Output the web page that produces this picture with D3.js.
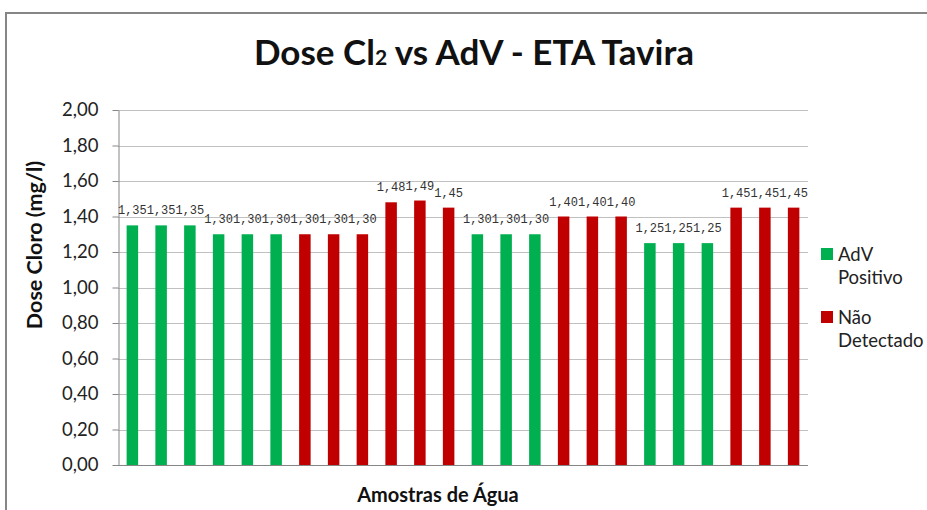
<!DOCTYPE html>
<html>
<head>
<meta charset="utf-8">
<script src="https://cdn.jsdelivr.net/npm/d3@7"></script>
<style>
  body { margin: 0; background: #fff; }
  svg { display: block; }
</style>
</head>
<body>
<div id="chart"></div>
<script>
var samples = d3.range(1, 25).map(function(i) { return 'A' + i; });
var doses = [1.35, 1.35, 1.35, 1.30, 1.30, 1.30, 1.30, 1.30, 1.30, 1.48, 1.49, 1.45,
             1.30, 1.30, 1.30, 1.40, 1.40, 1.40, 1.25, 1.25, 1.25, 1.45, 1.45, 1.45];
var groups = ['pos', 'pos', 'pos', 'pos', 'pos', 'pos', 'nd', 'nd', 'nd', 'nd', 'nd', 'nd',
              'pos', 'pos', 'pos', 'nd', 'nd', 'nd', 'pos', 'pos', 'pos', 'nd', 'nd', 'nd'];
var legend_keys = ['pos', 'nd'];
var legend_labels = [['AdV', 'Positivo'], ['Não', 'Detectado']];
var y_ticks = [0, 0.2, 0.4, 0.6, 0.8, 1.0, 1.2, 1.4, 1.6, 1.8, 2.0];

var settings = {
  width: 927,
  height: 510,
  plot_left: 118,
  plot_right: 808,
  plot_top: 110,
  plot_bottom: 465,
  green: '#00B050',
  red: '#C00000',
  grid_color: '#c0c0c0',
  font: 'Lato, "Open Sans", sans-serif'
};

var color = d3.scaleOrdinal().domain(legend_keys).range([settings.green, settings.red]);
var fmt = function(v) { return d3.format('.2f')(v).replace('.', ','); };

var svg = d3.select('#chart').append('svg')
  .attr('width', settings.width)
  .attr('height', settings.height);

// chart border
svg.append('rect')
  .attr('x', 6).attr('y', 13)
  .attr('width', settings.width + 10).attr('height', settings.height + 10)
  .style('fill', '#fff').style('stroke', '#868686').style('stroke-width', 2);

var x = d3.scaleBand()
  .domain(samples)
  .range([settings.plot_left, settings.plot_right])
  .paddingInner(0.6)
  .paddingOuter(0.3);

var y = d3.scaleLinear()
  .domain([0, 2])
  .range([settings.plot_bottom, settings.plot_top]);

// gridlines
svg.append('g').selectAll('line.grid')
  .data(y_ticks.slice(1))
  .enter().append('line')
  .attr('class', 'grid')
  .attr('x1', settings.plot_left).attr('x2', settings.plot_right)
  .attr('y1', function(d) { return Math.round(y(d)) + 0.5; })
  .attr('y2', function(d) { return Math.round(y(d)) + 0.5; })
  .style('stroke', settings.grid_color).style('stroke-width', 1);

// y axis
var yAxis = svg.append('g')
  .attr('transform', 'translate(' + (settings.plot_left + 0.5) + ',0)')
  .call(d3.axisLeft(y).tickValues(y_ticks).tickSize(6).tickSizeOuter(0).tickPadding(14).tickFormat(fmt));
yAxis.selectAll('path, line').style('stroke', '#868686');
yAxis.selectAll('text')
  .style('font-family', settings.font).style('font-size', '18.5px').style('fill', '#222');

// x axis line
svg.append('line')
  .attr('x1', settings.plot_left).attr('x2', settings.plot_right)
  .attr('y1', settings.plot_bottom + 0.5).attr('y2', settings.plot_bottom + 0.5)
  .style('stroke', '#868686');

// bars
svg.append('g').selectAll('rect.bar')
  .data(doses)
  .enter().append('rect')
  .attr('class', 'bar')
  .attr('x', function(d, i) { return x(samples[i]); })
  .attr('width', x.bandwidth())
  .attr('y', function(d) { return y(d); })
  .attr('height', function(d) { return y(0) - y(d); })
  .style('fill', function(d, i) { return color(groups[i]); });

// data labels
svg.append('g').selectAll('text.lbl')
  .data(doses)
  .enter().append('text')
  .attr('class', 'lbl')
  .attr('x', function(d, i) { return x(samples[i]) + x.bandwidth() / 2; })
  .attr('y', function(d) { return y(d) - 11; })
  .style('text-anchor', 'middle')
  .style('font-family', '"Liberation Mono", monospace')
  .style('font-size', '12px')
  .style('fill', '#333')
  .text(fmt);

// title
var title = svg.append('text')
  .attr('x', 474).attr('y', 65)
  .style('text-anchor', 'middle')
  .style('font-family', settings.font)
  .style('font-weight', 'bold')
  .style('font-size', '35px')
  .style('fill', '#111');
title.append('tspan').text('Dose Cl');
title.append('tspan').style('font-size', '21px').text('2');
title.append('tspan').text(' vs AdV - ETA Tavira');

// axis titles
svg.append('text')
  .attr('transform', 'translate(42,245) rotate(-90)')
  .style('text-anchor', 'middle')
  .style('font-family', settings.font).style('font-weight', 'bold').style('font-size', '21.5px')
  .style('fill', '#111')
  .text('Dose Cloro (mg/l)');

svg.append('text')
  .attr('x', 438).attr('y', 502)
  .style('text-anchor', 'middle')
  .style('font-family', settings.font).style('font-weight', 'bold').style('font-size', '20px')
  .style('fill', '#111')
  .text('Amostras de Água');

// legend
var legend = svg.append('g').selectAll('g.leg')
  .data(legend_keys)
  .enter().append('g')
  .attr('class', 'leg')
  .attr('transform', function(d, i) { return 'translate(821,' + (248 + i * 63) + ')'; });

legend.append('rect')
  .attr('width', 12).attr('height', 12)
  .style('fill', function(d) { return color(d); });

legend.each(function(d, i) {
  var t = d3.select(this).append('text')
    .style('font-family', settings.font).style('font-size', '18.5px').style('fill', '#222');
  t.selectAll('tspan')
    .data(legend_labels[i])
    .enter().append('tspan')
    .attr('x', 17)
    .attr('y', function(s, j) { return 13 + j * 23; })
    .text(function(s) { return s; });
});
</script>
</body>
</html>
